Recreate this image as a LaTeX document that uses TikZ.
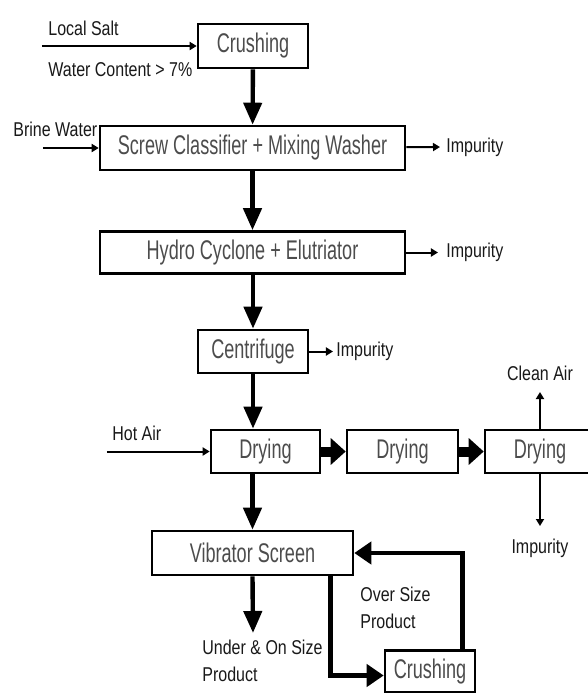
\documentclass[tikz,border=0pt]{standalone}
\usepackage{fontspec}
\setmainfont{Liberation Sans}
\newfontfamily\boxfont[FakeStretch=0.67]{Liberation Sans}
\newfontfamily\labelfont[FakeStretch=0.8]{Liberation Sans}
\usetikzlibrary{arrows.meta}

\begin{document}
\begin{tikzpicture}[x=0.5pt, y=-0.5pt,
    unit/.style = {draw, line width=1.3pt, inner sep=0pt,
    text=black!70, font=\boxfont\fontsize{13.5}{15}\selectfont},
    tag/.style = {inner sep=0pt, text=black!90, align=left,
    font=\labelfont\fontsize{10}{13.5}\selectfont},
    flow/.style = {line width=2.2pt, -{Triangle[length=11pt,width=9pt]}},
    loop/.style = {line width=2.4pt, line join=miter,
    -{Triangle[length=8.5pt,width=11pt]}},
    block/.style = {line width=5pt, -{Triangle[length=7.5pt,width=13pt]}},
    feed/.style = {line width=1pt, -{Triangle[length=3.5pt,width=4pt]}}]
    \useasboundingbox (0,0) rectangle (588,693);
    % process units
    \node[unit, minimum width=55pt, minimum height=22pt] (crush1) at (253,46) {Crushing};
    \node[unit, minimum width=152.5pt, minimum height=22pt] (screw) at (252.5,148) {Screw Classifier + Mixing Washer};
    \node[unit, minimum width=152.5pt, minimum height=21pt] (hydro) at (252.5,252.5) {Hydro Cyclone + Elutriator};
    \node[unit, minimum width=55pt, minimum height=21.5pt] (centri) at (253,351.5) {Centrifuge};
    \node[unit, minimum width=54.5pt, minimum height=21.5pt] (dry1) at (265.5,451.5) {Drying};
    \node[unit, minimum width=55.5pt, minimum height=21.5pt] (dry2) at (402.5,451.5) {Drying};
    \node[unit, minimum width=55pt, minimum height=21.5pt] (dry3) at (540,451.5) {Drying};
    \node[unit, minimum width=100.5pt, minimum height=22pt] (vib) at (252.5,553) {Vibrator Screen};
    \node[unit, minimum width=45pt, minimum height=21pt] (crush2) at (430,671.5) {Crushing};
    % labels
    \node[tag, anchor=west] (salt) at (48,28) {Local Salt};
    \node[tag, anchor=west] (water) at (48,70) {Water Content > 7\%};
    \node[tag, anchor=west] (brine) at (13,129) {Brine Water};
    \node[tag, anchor=west] (imp1) at (446,147) {Impurity};
    \node[tag, anchor=west] (imp2) at (446,252.5) {Impurity};
    \node[tag, anchor=west] (imp3) at (336,351.5) {Impurity};
    \node[tag, anchor=west] (hot) at (112,433) {Hot Air};
    \node[tag] (clean) at (540,373) {Clean Air};
    \node[tag] (imp4) at (540,548) {Impurity};
    \node[tag, anchor=west] (under) at (202,661) {Under \& On Size\\Product};
    \node[tag, anchor=west] (over) at (360,608) {Over Size\\Product};
    \coordinate (saltin) at (42,46);
    \coordinate (brinein) at (43,148);
    \coordinate (hotin) at (107,451.5);
    \coordinate (cleanout) at (540,392);
    \coordinate (impout) at (540,526);
    \coordinate (undout) at (253,633);
    % main line
    \draw[flow] (crush1) -- (screw);
    \draw[flow] (screw) -- (hydro);
    \draw[flow] (hydro.south -| centri) -- (centri);
    \draw[flow] (centri.south) -- (centri.south |- dry1.north);
    \draw[flow] (vib.north |- dry1.south) -- (vib.north);
    \draw[flow] (vib.south) -- (undout);
    \draw[block] (dry1) -- (dry2);
    \draw[block] (dry2) -- (dry3);
    \draw[loop] ([xshift=-12pt]vib.south east) |- ([yshift=-2pt]crush2.west);
    \draw[loop] ([xshift=-7pt]crush2.north east) |- (vib.east);
    % feeds and outlets
    \draw[feed] (saltin) -- (crush1);
    \draw[feed] (brinein) -- (screw);
    \draw[feed] (hotin) -- (dry1);
    \draw[feed] (screw) -- ([xshift=-3pt]imp1.west);
    \draw[feed] (hydro) -- ([xshift=-4pt]imp2.west);
    \draw[feed] (centri) -- ([xshift=-1.5pt]imp3.west);
    \draw[feed] (dry3) -- (cleanout);
    \draw[feed] (dry3) -- (impout);
\end{tikzpicture}
\end{document}
